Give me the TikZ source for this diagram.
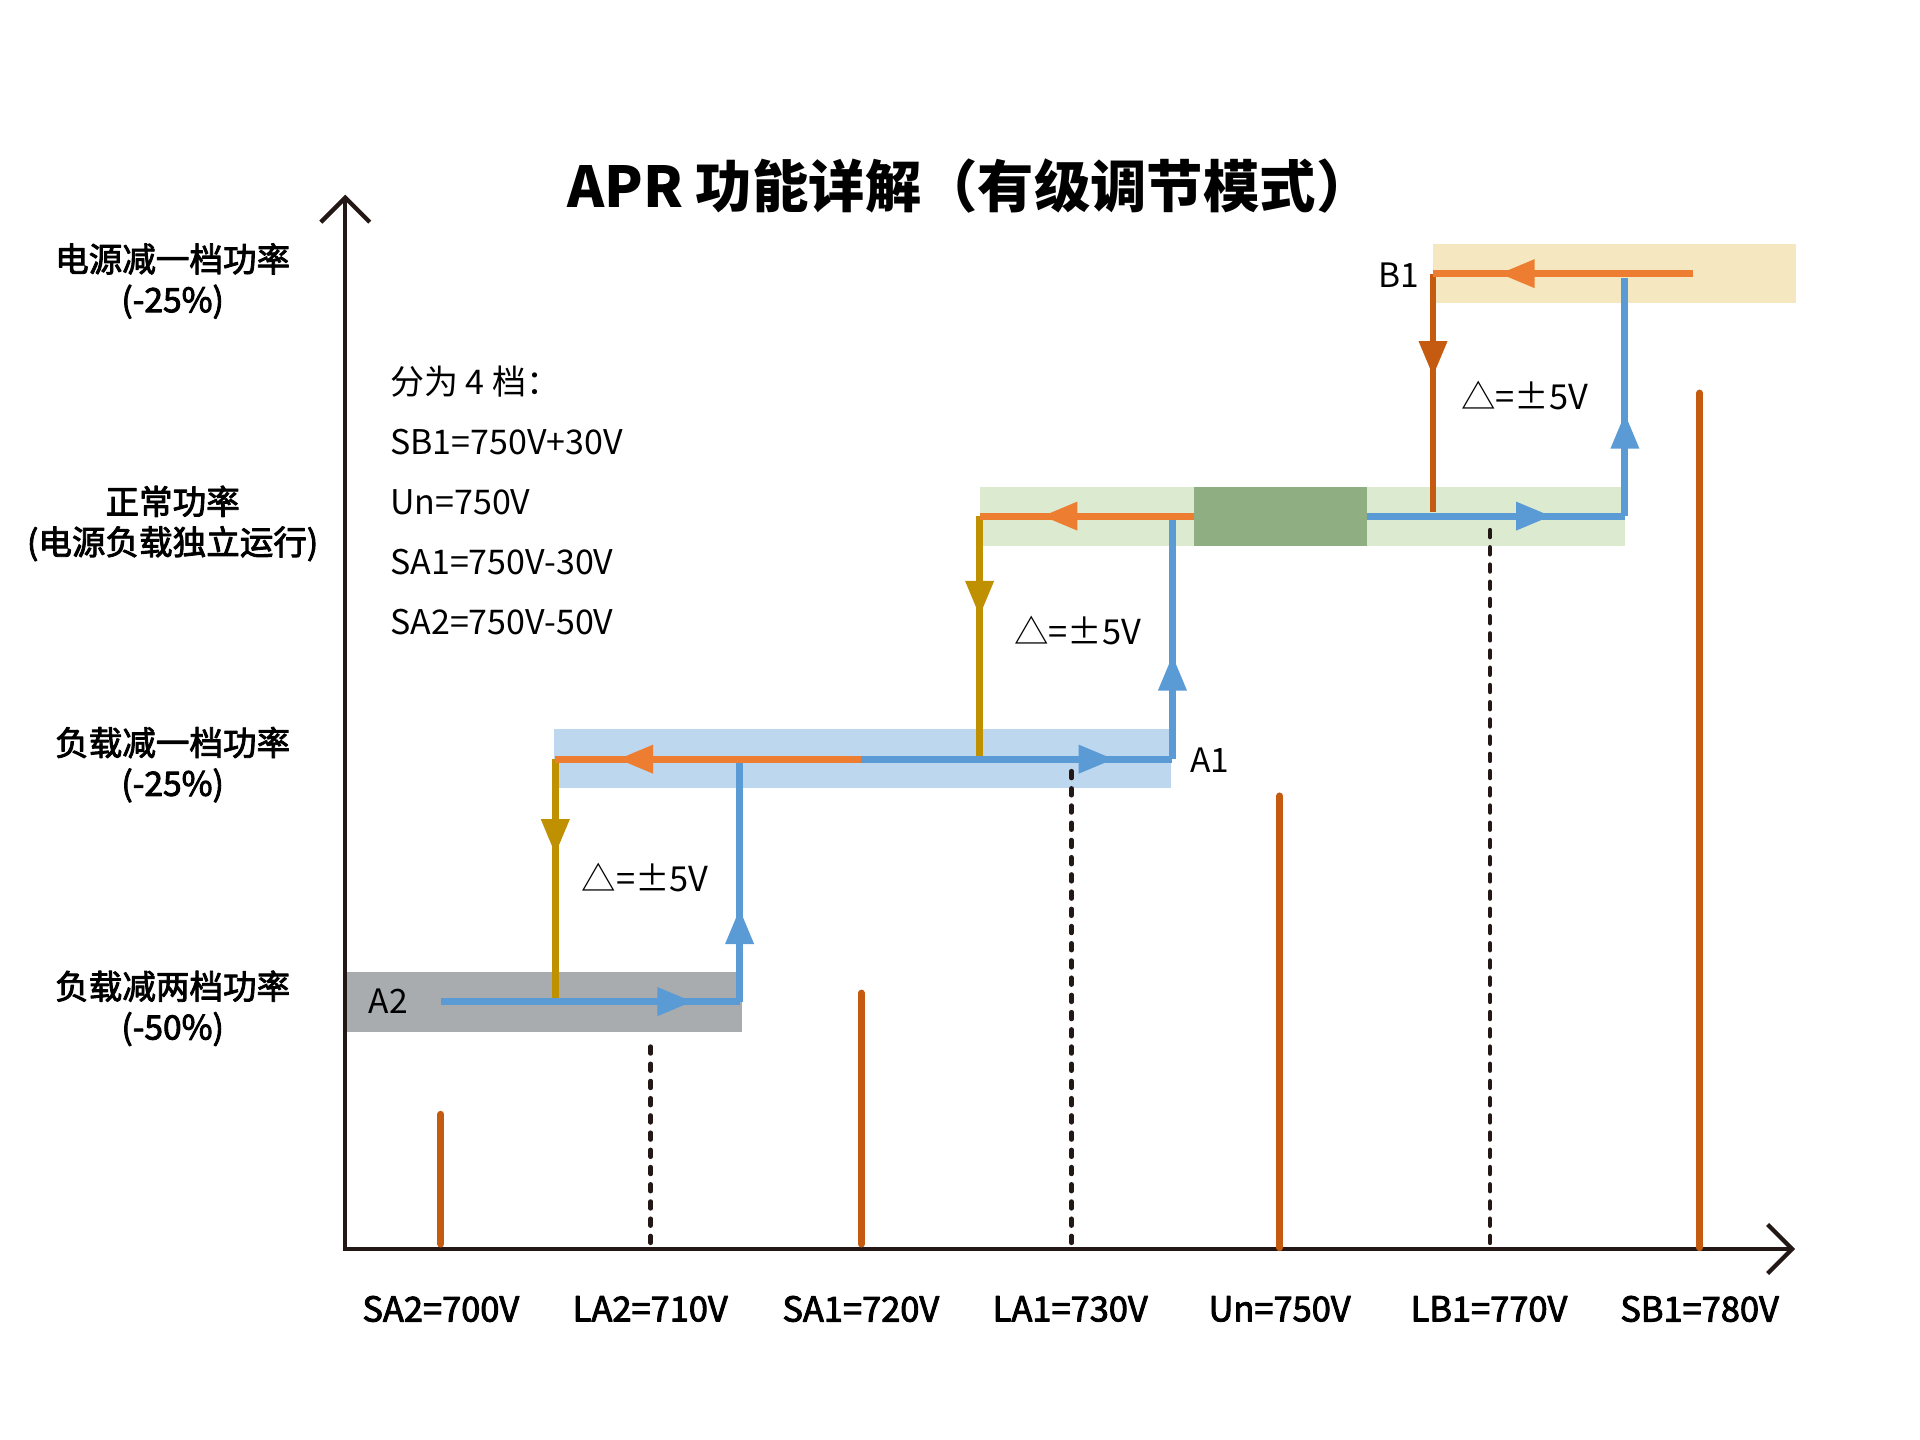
\documentclass[tikz,border=0pt]{standalone}
\usepackage{fontspec}
\setmainfont{Noto Sans CJK SC}
\newfontfamily\medfont{Noto Sans CJK SC}[FakeBold=2.6]
\usepackage{tikz}
\usepackage{xcolor}
\usetikzlibrary{arrows.meta,calc,positioning,decorations.markings}
\definecolor{axisblack}{HTML}{231815}
\definecolor{aprorange}{HTML}{ED7D31}
\definecolor{aprrust}{HTML}{C55A11}
\definecolor{aprgold}{HTML}{BF9000}
\definecolor{aprblue}{HTML}{5B9BD5}
\definecolor{bandgray}{HTML}{A9ACAE}
\definecolor{bandblue}{HTML}{BDD7EE}
\definecolor{bandgreen}{HTML}{DCEAD0}
\definecolor{boxgreen}{HTML}{8FAE82}
\definecolor{bandyellow}{HTML}{F5E8C0}

\tikzset{
	axisline/.style={axisblack,line width=1pt,line cap=butt,line join=miter},
	flow/.style={line width=1.6pt,line cap=butt},
	midarrow/.style={postaction={decorate},decoration={markings,mark=at position #1 with {\arrow{Triangle[length=0.29cm,width=0.22cm]}}}},
	tickline/.style={aprrust,line width=1.6pt,line cap=round},
	guideline/.style={axisblack,line width=1.05pt,line cap=round,dash pattern=on 1.6pt off 2.4pt},
	lvllabel/.style={font=\medfont\fontsize{7.8}{9.4}\selectfont,align=center,inner sep=0pt},
	vlabel/.style={font=\medfont\fontsize{8}{10}\selectfont,inner sep=0pt},
	notetext/.style={font=\fontsize{7.9}{10}\selectfont,anchor=west,inner sep=0pt},
	ptlabel/.style={font=\fontsize{7.8}{9}\selectfont,inner sep=0pt},
	deltalabel/.style={font=\fontsize{8}{9}\selectfont,inner sep=0pt}
}

\begin{document}
\begin{tikzpicture}[x=1cm,y=1cm,line cap=round,line join=round]
		\useasboundingbox (0,0) rectangle (15.68,11.76);
		% bands
		\fill[bandgray] (2.83,3.335) rectangle (6.06,3.82);
		\fill[bandblue] (4.525,5.322) rectangle (9.56,5.81);
		\fill[bandgreen] (8.00,7.301) rectangle (13.27,7.786);
		\fill[boxgreen] (9.75,7.301) rectangle (11.16,7.786);
		\fill[bandyellow] (11.70,9.283) rectangle (14.67,9.767);

		% axes
		\coordinate (O) at (2.82,1.56);
		\coordinate (ytop) at (2.82,10.17);
		\coordinate (xend) at (14.66,1.56);
		\draw[axisline,{Straight Barb[length=0.2cm,width=0.4cm]}-{Straight Barb[length=0.2cm,width=0.4cm]}] (ytop) -- (O) -- (xend);

		% title
		\node[font=\bfseries\fontsize{13.1}{16}\selectfont] (title) at (7.92,10.24) {APR 功能详解（有级调节模式）};

		% level labels
		\node[lvllabel] (lvlB1) at (1.41,9.465) {电源减一档功率\\(-25\%)};
		\node[lvllabel] (lvlUn) at (1.41,7.485) {正常功率\\(电源负载独立运行)};
		\node[lvllabel] (lvlA1) at (1.41,5.515) {负载减一档功率\\(-25\%)};
		\node[lvllabel] (lvlA2) at (1.41,3.525) {负载减两档功率\\(-50\%)};

		% voltage labels
		\node[vlabel] (vSA2) at (3.60,1.07) {SA2=700V};
		\node[vlabel] (vLA2) at (5.31,1.07) {LA2=710V};
		\node[vlabel] (vSA1) at (7.03,1.07) {SA1=720V};
		\node[vlabel] (vLA1) at (8.74,1.07) {LA1=730V};
		\node[vlabel] (vUn) at (10.45,1.07) {Un=750V};
		\node[vlabel] (vLB1) at (12.16,1.07) {LB1=770V};
		\node[vlabel] (vSB1) at (13.88,1.07) {SB1=780V};

		% notes
		\node[notetext] (note1) at (3.18,8.64) {分为 4 档：};
		\node[notetext] (note2) at (3.18,8.15) {SB1=750V+30V};
		\node[notetext] (note3) at (3.18,7.66) {Un=750V};
		\node[notetext] (note4) at (3.18,7.17) {SA1=750V-30V};
		\node[notetext] (note5) at (3.18,6.68) {SA2=750V-50V};

		% set points and switching points
		\draw[tickline] (3.60,1.60) -- (3.60,2.66);
		\draw[tickline] (7.035,1.60) -- (7.035,3.65);
		\draw[tickline] (10.45,1.57) -- (10.45,5.26);
		\draw[tickline] (13.88,1.57) -- (13.88,8.55);
		\draw[guideline] (5.314,1.61) -- (5.314,3.25);
		\draw[guideline] (8.75,1.61) -- (8.75,5.53);
		\draw[guideline] (12.168,1.61) -- (12.168,7.50);

		% corners of the loops
		\coordinate (a2s) at (3.60,3.58);
		\coordinate (a2e) at (6.04,3.58);
		\coordinate (a2up) at (6.04,5.54);
		\coordinate (a1l) at (4.535,5.56);
		\coordinate (a1m) at (7.03,5.56);
		\coordinate (a1r) at (9.575,5.56);
		\coordinate (a1up) at (9.575,7.52);
		\coordinate (a1dn) at (4.535,3.60);
		\coordinate (unl) at (8.00,7.545);
		\coordinate (unb) at (9.75,7.545);
		\coordinate (une) at (11.16,7.545);
		\coordinate (unr) at (13.27,7.545);
		\coordinate (unup) at (13.27,9.49);
		\coordinate (undn) at (8.00,5.57);
		\coordinate (b1l) at (11.703,9.525);
		\coordinate (b1r) at (13.83,9.525);
		\coordinate (b1dn) at (11.703,7.58);

		% loops
		\draw[flow,aprblue,midarrow=0.388] (a2e) -- (a2up);
		\draw[flow,aprblue,midarrow=0.434] (a1r) -- (a1up);
		\draw[flow,aprblue,midarrow=0.432] (unr) -- (unup);
		\draw[flow,aprgold,midarrow=0.398] (a1l) -- (a1dn);
		\draw[flow,aprgold,midarrow=0.415] (unl) -- (undn);
		\draw[flow,aprrust,midarrow=0.432] (b1l) -- (b1dn);
		\draw[flow,aprblue,midarrow=0.844] (a2s) -- (a2e);
		\draw[flow,aprblue,midarrow=0.813] (a1m) -- (a1r);
		\draw[flow,aprblue,midarrow=0.716] (une) -- (unr);
		\draw[flow,aprorange,midarrow=0.796] (a1m) -- (a1l);
		\draw[flow,aprorange,midarrow=0.709] (unb) -- (unl);
		\draw[flow,aprorange,midarrow=0.746] (b1r) -- (b1l);

		% point labels
		\node[ptlabel] (A2) at (3.17,3.58) {A2};
		\node[ptlabel] (A1) at (9.88,5.55) {A1};
		\node[ptlabel] (B1) at (11.42,9.51) {B1};
		\node[deltalabel] (dA2) at (5.27,4.59) {△=±5V};
		\node[deltalabel] (dA1) at (8.80,6.61) {△=±5V};
		\node[deltalabel] (dB1) at (12.45,8.53) {△=±5V};
\end{tikzpicture}
\end{document}
